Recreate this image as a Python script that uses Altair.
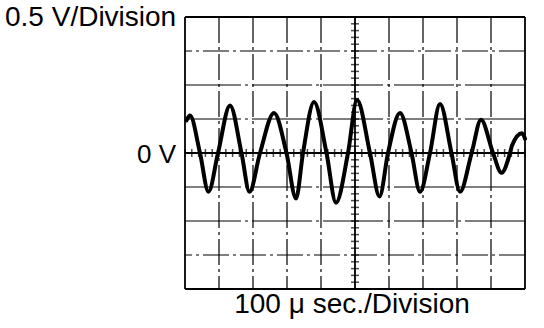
import altair as alt
import pandas as pd

# Oscilloscope trace: time (µs) and voltage (V)
t_us = [4.4, 14.7, 44.1, 69.1, 97.1, 132.4, 166.2, 189.7, 220.6, 261.8,
        298.5, 326.5, 347.1, 379.4, 416.2, 444.1, 479.4, 505.9, 544.1, 572.1,
        597.1, 632.4, 666.2, 691.2, 720.6, 750.0, 783.8, 808.8, 843.1, 870.6,
        905.9, 930.9, 955.9, 961.8, 991.2, 1000.0]
volts = [0.48, 0.55, 0.0, -0.57, 0.0, 0.70, 0.0, -0.57, 0.0, 0.59,
         0.0, -0.67, 0.0, 0.75, 0.0, -0.73, 0.0, 0.78, 0.0, -0.64,
         0.0, 0.59, 0.0, -0.57, 0.0, 0.72, 0.0, -0.57, 0.0, 0.49,
         0.0, -0.29, 0.0, 0.11, 0.29, 0.21]

# Graticule: 10 x 100 µs divisions, 8 x 0.5 V divisions
grid_x = [100, 200, 300, 400, 600, 700, 800, 900]
grid_y_solid = [-1.0, -0.5, 0.5, 1.0]
grid_y_dash = [-1.5, 1.5]
border_x = [0, 1000]
border_y = [-2, 2]
minor_x = list(range(0, 1001, 20))
minor_y = [round(-2 + 0.1 * i, 1) for i in range(41)]

trace = pd.DataFrame({"t": t_us, "v": volts})
gx = pd.DataFrame({"x": grid_x})
gys = pd.DataFrame({"y": grid_y_solid})
gyd = pd.DataFrame({"y": grid_y_dash})
bx = pd.DataFrame({"x": border_x})
by = pd.DataFrame({"y": border_y})
mx = pd.DataFrame({"x": minor_x, "y": [0] * len(minor_x)})
my = pd.DataFrame({"y": minor_y, "x": [500] * len(minor_y)})

xs = alt.Scale(domain=[0, 1000], nice=False, zero=False)
ys = alt.Scale(domain=[-2, 2], nice=False, zero=False)
X = lambda f: alt.X(f, scale=xs, axis=None)
Y = lambda f: alt.Y(f, scale=ys, axis=None)

dash = [26, 4, 3, 4]

vgrid = alt.Chart(gx).mark_rule(color="black", strokeWidth=1.2, strokeDash=dash).encode(x=X("x:Q"))
hgrid_s = alt.Chart(gys).mark_rule(color="black", strokeWidth=1.2, strokeDash=[60, 4, 3, 4]).encode(y=Y("y:Q"))
hgrid_d = alt.Chart(gyd).mark_rule(color="black", strokeWidth=1.2, strokeDash=dash).encode(y=Y("y:Q"))
vborder = alt.Chart(bx).mark_rule(color="black", strokeWidth=1.8).encode(x=X("x:Q"))
hborder = alt.Chart(by).mark_rule(color="black", strokeWidth=1.8).encode(y=Y("y:Q"))
cx = alt.Chart(pd.DataFrame({"x": [500]})).mark_rule(color="black", strokeWidth=1.8).encode(x=X("x:Q"))
cy = alt.Chart(pd.DataFrame({"y": [0]})).mark_rule(color="black", strokeWidth=1.8).encode(y=Y("y:Q"))
tx = alt.Chart(mx).mark_tick(color="black", size=8, thickness=1.5, orient="vertical").encode(x=X("x:Q"), y=Y("y:Q"))
ty = alt.Chart(my).mark_tick(color="black", size=8, thickness=1.5, orient="horizontal").encode(x=X("x:Q"), y=Y("y:Q"))

line = alt.Chart(trace).mark_line(
    color="black", strokeWidth=4, interpolate="monotone", strokeJoin="round", strokeCap="round"
).encode(x=X("t:Q"), y=Y("v:Q"))

font = "Liberation Sans"
t1 = alt.Chart(pd.DataFrame({"s": ["0.5 V/Division"]})).mark_text(
    font=font, fontSize=28, align="left", baseline="alphabetic", color="black"
).encode(text="s:N", x=alt.value(-180), y=alt.value(9))
t2 = alt.Chart(pd.DataFrame({"s": ["0 V"]})).mark_text(
    font=font, fontSize=26, align="right", baseline="alphabetic", color="black"
).encode(text="s:N", x=alt.value(-9), y=alt.value(146))
t3 = alt.Chart(pd.DataFrame({"s": ["100 μ sec./Division"]})).mark_text(
    font=font, fontSize=28, align="center", baseline="alphabetic", color="black"
).encode(text="s:N", x=alt.value(167), y=alt.value(296))

chart = alt.layer(
    vgrid, hgrid_s, hgrid_d, vborder, hborder, cx, cy, tx, ty, line, t1, t2, t3
).properties(
    width=340, height=272,
    padding={"left": 185, "top": 17, "right": 19, "bottom": 39},
    autosize=alt.AutoSizeParams(type="none"),
    background="white",
).configure_view(stroke=None)

chart.save("out.html", embed_options={"renderer": "svg", "actions": False})
